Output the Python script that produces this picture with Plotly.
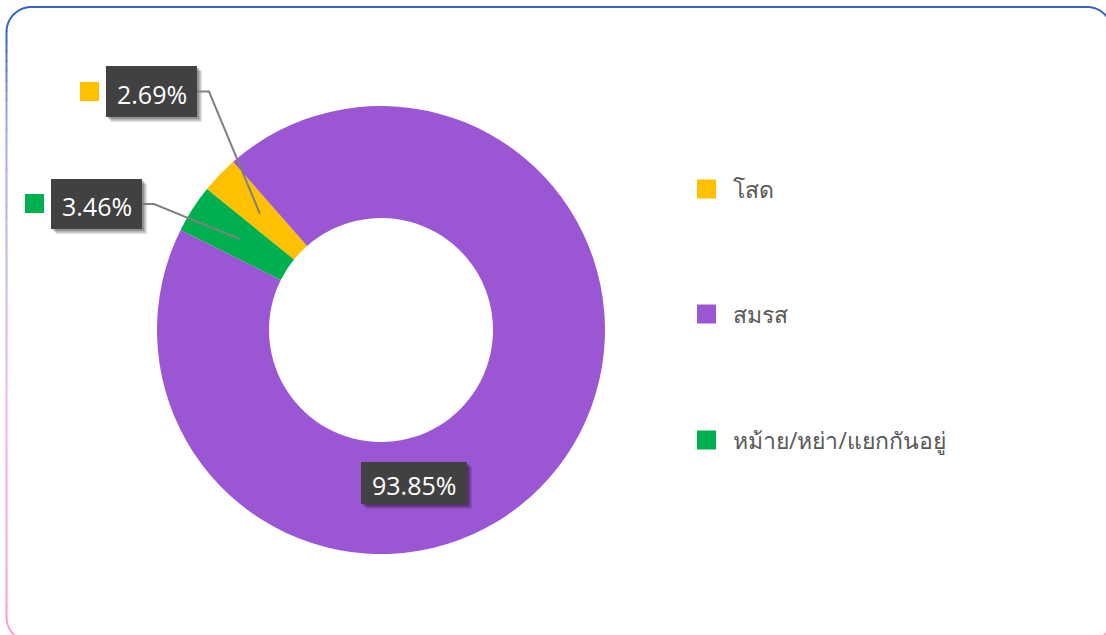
import math
import plotly.graph_objects as go

# ---------------- data ----------------
categories = ["โสด", "สมรส", "หม้าย/หย่า/แยกกันอยู่"]
percent_values = [2.69, 93.85, 3.46]
label_texts = ["2.69%", "93.85%", "3.46%"]
slice_colors = ["#FFC000", "#9B57D3", "#00B050"]

# ---------------- layout constants (pixels) ----------------
W, H = 1106, 635
CX, CY, R_OUT = 381, 330, 224
HOLE = 0.5
ROTATION = -51
LEADER_R = 168
# label boxes (x0, y0, x1, y1) and whether a leader line / key is drawn
label_boxes = [(106, 66, 197, 117), (361, 462, 467, 504), (51, 179, 142, 229)]
label_leader = [True, False, True]
label_keys = [(80, 82, 99, 101), None, (25, 194, 44, 213)]
legend_rows_y = [189, 314, 440]
LEGEND_KEY_X = 697
LEGEND_TEXT_X = 731
FONT = "Open Sans, Noto Sans, Leelawadee UI, Tahoma, sans-serif"


def px(x):
    return x / W


def py(y):
    return 1 - y / H


fig = go.Figure(
    go.Pie(
        labels=categories,
        values=percent_values,
        sort=False,
        direction="clockwise",
        rotation=ROTATION,
        hole=HOLE,
        marker=dict(colors=slice_colors, line=dict(width=0)),
        textinfo="none",
        hoverinfo="label+percent",
        showlegend=False,
        domain=dict(x=[px(CX - R_OUT), px(CX + R_OUT)],
                    y=[py(CY + R_OUT), py(CY - R_OUT)]),
    )
)

shapes = []
annotations = []

# ---------------- border with gradient ----------------
BL, BT, BR, BB, RAD = 6.5, 7, 1112, 642, 25
BLUE = "#3A62C2"
PINK = "#FF9CD0"
stops = [(BT + RAD, (0x3A, 0x62, 0xC2)), (120, (0x9A, 0xAA, 0xF0)),
         (260, (0xC6, 0xB6, 0xEE)), (400, (0xF4, 0xB6, 0xE6)),
         (BB - RAD, (0xFF, 0x9C, 0xD0))]


def col_at(y):
    for (y0, c0), (y1, c1) in zip(stops[:-1], stops[1:]):
        if y0 <= y <= y1:
            t = (y - y0) / (y1 - y0)
            return "rgb(%d,%d,%d)" % tuple(round(a + (b - a) * t) for a, b in zip(c0, c1))
    return "rgb(%d,%d,%d)" % stops[-1][1]


def pth(pts):
    return "M " + " L ".join("%.5f,%.5f" % (px(x), py(y)) for x, y in pts)


def arc(cx, cy, r, a0, a1, n=16):
    return [(cx + r * math.cos(math.radians(a0 + (a1 - a0) * k / n)),
             cy + r * math.sin(math.radians(a0 + (a1 - a0) * k / n))) for k in range(n + 1)]


# top edge with top corners
top = arc(BL + RAD, BT + RAD, RAD, 180, 270) + arc(BR - RAD, BT + RAD, RAD, 270, 360)
shapes.append(dict(type="path", xref="paper", yref="paper", path=pth(top),
                   line=dict(color=BLUE, width=2)))
# bottom corners + edge
bot = arc(BR - RAD, BB - RAD, RAD, 0, 90) + arc(BL + RAD, BB - RAD, RAD, 90, 180)
shapes.append(dict(type="path", xref="paper", yref="paper", path=pth(bot),
                   line=dict(color=PINK, width=2)))
# left edge gradient segments
N = 60
y_a, y_b = BT + RAD, BB - RAD
for k in range(N):
    ya = y_a + (y_b - y_a) * k / N
    yb = y_a + (y_b - y_a) * (k + 1) / N
    shapes.append(dict(type="line", xref="paper", yref="paper",
                       x0=px(BL), x1=px(BL), y0=py(ya - 0.5), y1=py(yb + 0.5),
                       line=dict(color=col_at((ya + yb) / 2), width=2)))

# ---------------- data labels ----------------
total = sum(percent_values)
cum = 0
for i, v in enumerate(percent_values):
    mid = ROTATION + 360 * (cum + v / 2) / total
    cum += v
    ax_ = CX + LEADER_R * math.sin(math.radians(mid))
    ay_ = CY - LEADER_R * math.cos(math.radians(mid))
    x0, y0, x1, y1 = label_boxes[i]
    # shadow
    for off, op in ((5, 0.12), (3.5, 0.18), (2, 0.2)):
        shapes.append(dict(type="rect", xref="paper", yref="paper",
                           x0=px(x0 + off), x1=px(x1 + off), y0=py(y0 + off), y1=py(y1 + off),
                           line=dict(width=0), fillcolor="rgba(0,0,0,%.2f)" % op))
    shapes.append(dict(type="rect", xref="paper", yref="paper",
                       x0=px(x0), x1=px(x1), y0=py(y0), y1=py(y1),
                       line=dict(width=0), fillcolor="#414141"))
    annotations.append(dict(xref="paper", yref="paper", x=px((x0 + x1) / 2), y=py((y0 + y1) / 2 + 2),
                            text=label_texts[i], showarrow=False, xanchor="center", yanchor="middle",
                            font=dict(family=FONT, size=25, color="white")))
    if label_leader[i]:
        ym = (y0 + y1) / 2
        shapes.append(dict(type="path", xref="paper", yref="paper",
                           path=pth([(x1, ym), (x1 + 12, ym), (ax_, ay_)]),
                           line=dict(color="#808080", width=2)))
    if label_keys[i]:
        kx0, ky0, kx1, ky1 = label_keys[i]
        shapes.append(dict(type="rect", xref="paper", yref="paper",
                           x0=px(kx0), x1=px(kx1), y0=py(ky0), y1=py(ky1),
                           line=dict(width=0), fillcolor=slice_colors[i]))

# ---------------- legend ----------------
for i, name in enumerate(categories):
    yc = legend_rows_y[i]
    shapes.append(dict(type="rect", xref="paper", yref="paper",
                       x0=px(LEGEND_KEY_X), x1=px(LEGEND_KEY_X + 19),
                       y0=py(yc - 9.5), y1=py(yc + 9.5),
                       line=dict(width=0), fillcolor=slice_colors[i]))
    annotations.append(dict(xref="paper", yref="paper", x=px(LEGEND_TEXT_X), y=py(yc),
                            text=name, showarrow=False, xanchor="left", yanchor="middle",
                            font=dict(family=FONT, size=23, color="#595959")))

fig.update_layout(
    width=W, height=H,
    margin=dict(l=0, r=0, t=0, b=0),
    paper_bgcolor="white",
    plot_bgcolor="white",
    shapes=shapes,
    annotations=annotations,
    showlegend=False,
)

fig.write_html("out.html", config={"displayModeBar": False},
               post_script="document.body.style.margin='0px';document.body.style.overflow='hidden';")
